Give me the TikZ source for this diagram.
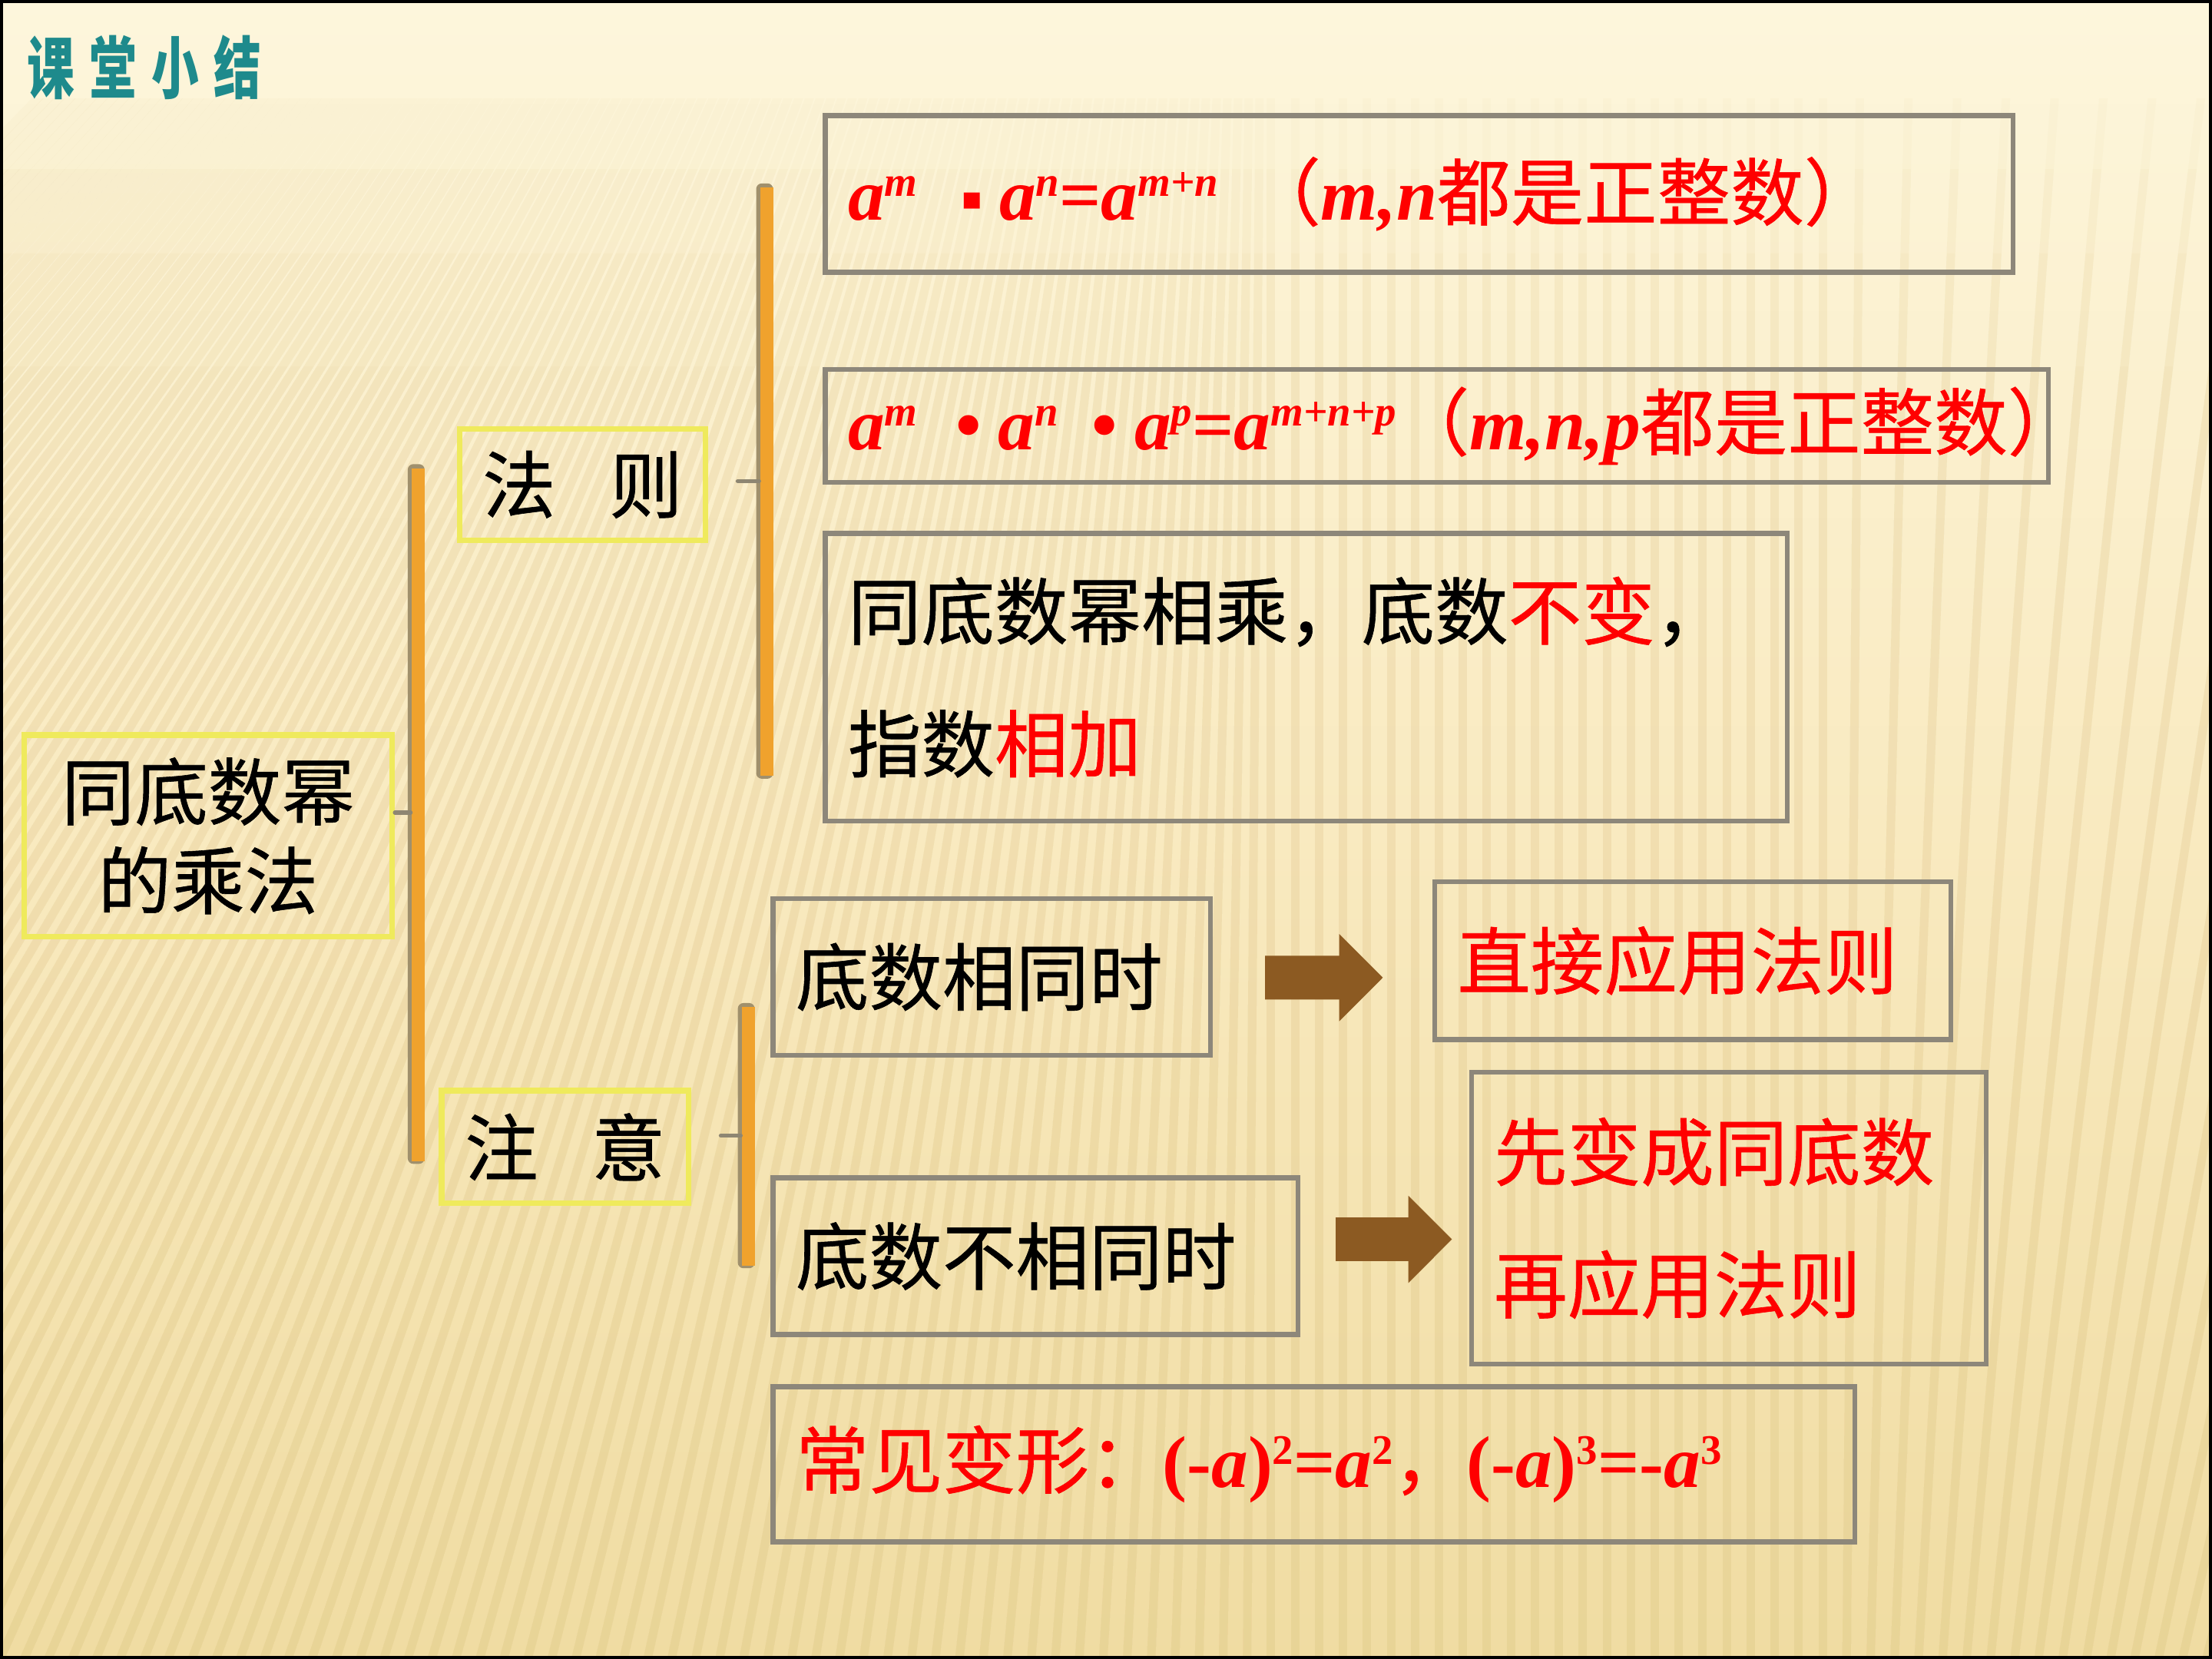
\documentclass[tikz,border=0pt]{standalone}
\usepackage{fontspec}
\usepackage{graphicx}
\usepackage{xcolor}
\usetikzlibrary{arrows.meta,calc}
\newfontfamily\cjk{Noto Sans CJK SC}[FakeBold=0.6]
\newfontfamily\ttl{Noto Sans CJK SC}
\newfontfamily\tnr{Liberation Serif}
\newfontfamily\dvs{DejaVu Sans}
\definecolor{boxgray}{HTML}{8D877A}
\definecolor{ylw}{HTML}{EFEA5C}
\definecolor{barorange}{HTML}{F0A22D}
\definecolor{barsh}{HTML}{A0906C}
\definecolor{tickgray}{HTML}{8E8672}
\definecolor{brownarrow}{HTML}{8C5A22}
\definecolor{teal1}{HTML}{1E8A8C}
\definecolor{bgtop}{HTML}{FDF6DC}
\definecolor{bgmid}{HTML}{F9EAC0}
\definecolor{bgbot}{HTML}{F0DCA2}
\definecolor{stripec}{HTML}{C9A552}
\newcommand\mi[1]{{\tnr\bfseries\itshape #1}}
\newcommand\mr[1]{{\tnr\bfseries #1}}
\newcommand\su[1]{\raisebox{0.32em}{\tnr\bfseries\itshape\fontsize{17}{17}\selectfont #1}}
\newcommand\sr[1]{\raisebox{0.32em}{\tnr\bfseries\fontsize{17}{17}\selectfont #1}}
\newcommand\sqdot{\raisebox{0.14em}{\dvs\fontsize{13}{13}\selectfont ▪}}
\newcommand\orbar[3]{%
  \fill[barsh, rounded corners=0.08cm] (#1-2,#2-1) rectangle (#1+10,#3+2);
  \fill[barorange] (#1+1,#2+2) rectangle (#1+10,#3);}
\newcommand\stripes[2]{%
  \begin{scope}[opacity=#2]
    \clip (0,#1) rectangle (1568,1176);
    \foreach \k in {-62,...,95} {
      \pgfmathsetmacro{\xb}{\k*17}
      \pgfmathsetmacro{\tl}{\xb<900 ? 0.45*(1-\xb/900)*1176 : (\xb>1300 ? 0.25*(\xb-1300)/268*1176 : 0)}
      \draw[stripe] (\xb,1176) -- (\xb+\tl,0);
    }
  \end{scope}}
\begin{document}
\begin{tikzpicture}[x=0.02cm, y=-0.02cm,
  every node/.style={font=\cjk\fontsize{29.6}{53.5}\selectfont, inner sep=0pt},
  gbox/.style={draw=boxgray, line width=0.07cm, inner xsep=0.32cm, inner ysep=0pt, align=left},
  ybox/.style={draw=ylw, line width=0.08cm, align=center, inner sep=0pt},
  tick/.style={draw=tickgray, line width=0.06cm, line cap=round},
  fat/.style={draw=brownarrow, line width=0.62cm, -{Triangle[length=0.62cm, width=1.2cm]}},
  stripe/.style={draw=stripec, line width=0.12cm}]
\useasboundingbox (0,0) rectangle (1568,1176);
% background
\shade[top color=bgtop, bottom color=bgbot, middle color=bgmid] (0,0) rectangle (1568,1176);
\stripes{70}{0.035}
\stripes{120}{0.035}
\stripes{180}{0.035}
\stripes{260}{0.035}
\draw[black, line width=0.05cm] (1,1) rectangle (1567,1175);

% title
\node[anchor=west, font=\ttl\bfseries\fontsize{27.3}{27.3}\selectfont, text=teal1] (title) at (19,48)
  {\scalebox{0.7}[1]{课\hspace{0.3cm}堂\hspace{0.3cm}小\hspace{0.3cm}结}};

% brackets
\orbar{291}{330}{823}
\orbar{538}{131}{550}
\orbar{525}{712}{897}
\coordinate (b1) at (291,576);
\coordinate (b2) at (538,341);
\coordinate (t2) at (523,341);
\coordinate (b3) at (525,805);
\coordinate (t3) at (511,805);

% yellow boxes
\node[ybox, minimum width=5.22cm, minimum height=2.86cm, font=\cjk\fontsize{29.6}{35.9}\selectfont] (root) at (147.5,592.5) {同底数幂\\的乘法};
\node[ybox, minimum width=3.48cm, minimum height=1.58cm] (fz) at (413,343.5) {法\hspace{0.76cm}则};
\node[ybox, minimum width=3.5cm, minimum height=1.6cm] (zy) at (400.5,813) {注\hspace{0.76cm}意};

\draw[tick] (root.east |- b1) -- (b1);
\draw[tick] (t2) -- (b2);
\draw[tick] (t3) -- (b3);

% gray boxes
\node[gbox, minimum width=16.84cm, minimum height=2.22cm, text width=16.2cm] (fa) at (1006,137.5)
  {\mbox{\color{red}\mi{a}\su{m}\hspace{0.6em}\sqdot\hspace{0.22em}\mi{a}\su{n}\mr{=}\mi{a}\su{m+n}\hspace{0.4em}（\mi{m,n}都是正整数）}};
\node[gbox, minimum width=17.34cm, minimum height=1.6cm, text width=16.7cm] (fb) at (1018.5,302)
  {\mbox{\color{red}\mi{a}\su{m}\hspace{0.52em}\mr{•}\hspace{0.23em}\mi{a}\su{n}\hspace{0.46em}\mr{•}\hspace{0.23em}\mi{a}\su{p}\mr{=}\mi{a}\su{m+n+p}（\mi{m,n,p}都是正整数）}};
\node[gbox, minimum width=13.64cm, minimum height=4.08cm, text width=13.0cm] (fc) at (926,480)
  {同底数幂相乘，底数{\color{red}不变}，\\指数{\color{red}相加}};
\node[gbox, minimum width=6.2cm, minimum height=2.22cm, text width=5.56cm] (dd) at (703,692.5) {底数相同时};
\node[gbox, minimum width=7.32cm, minimum height=2.24cm, text width=6.68cm] (de) at (1200,681) {\color{red}直接应用法则};
\node[gbox, minimum width=7.44cm, minimum height=2.22cm, text width=6.8cm] (df) at (734,890.5) {底数不相同时};
\node[gbox, minimum width=7.3cm, minimum height=4.14cm, text width=6.66cm] (dg) at (1225.5,863.5) {\color{red}先变成同底数\\再应用法则};
\node[gbox, minimum width=15.34cm, minimum height=2.2cm, text width=14.7cm] (dh) at (931.5,1038)
  {\mbox{\color{red}常见变形：\mr{(-}\mi{a}\mr{)}\sr{2}\mr{=}\mi{a}\sr{2}，\mr{(-}\mi{a}\mr{)}\sr{3}\mr{=-}\mi{a}\sr{3}}};

% arrows
\draw[fat] ($(dd.east)+(37,0.5)$) -- ($(de.west)+(-35,12)$);
\draw[fat] ($(df.east)+(25,-12)$) -- ($(dg.west)+(-12,15)$);
\end{tikzpicture}
\end{document}
